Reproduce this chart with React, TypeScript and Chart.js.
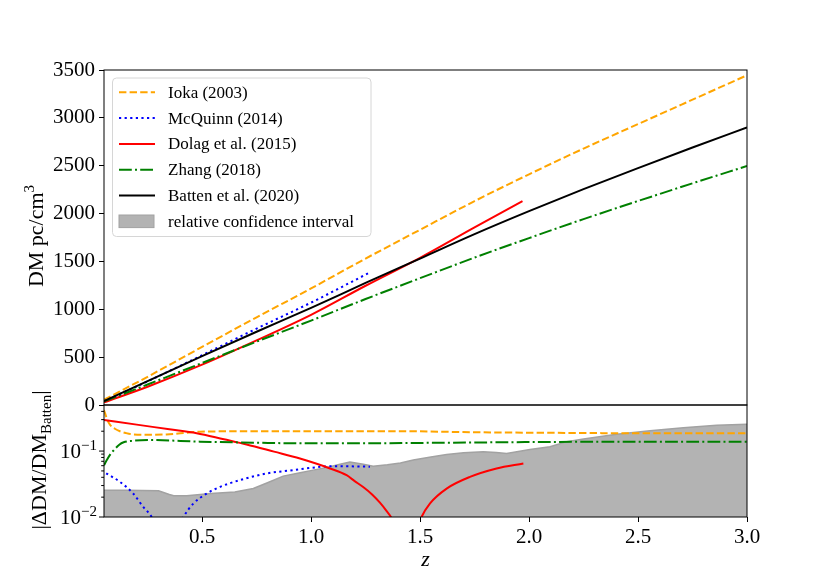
import React, { useEffect, useRef } from "react";
import { Chart, registerables } from "chart.js";

Chart.register(...registerables);

const SERIF = '"Liberation Serif", "DejaVu Serif", serif';

// ---------- top panel: DM [pc/cm^3] against redshift z ----------
const zGrid = [0.05, 0.25, 0.5, 0.75, 1.0, 1.25, 1.5, 1.75, 2.0, 2.25, 2.5, 2.75, 3.0];
const dmIoka = [55, 295, 607, 916, 1218, 1530, 1831, 2130, 2410, 2679, 2935, 3190, 3445];
const dmZhang = [38, 214, 439, 662, 882, 1107, 1325, 1540, 1744, 1942, 2131, 2316, 2497];
const dmBatten = [40, 250, 510, 765, 1015, 1275, 1530, 1785, 2025, 2255, 2475, 2690, 2900];
const zDolag = [0.05, 0.25, 0.5, 0.75, 1.0, 1.25, 1.5, 1.75, 1.97];
const dmDolag = [28, 191, 421, 675, 942, 1246, 1538, 1856, 2130];
const zMcQuinn = [0.05, 0.25, 0.5, 0.75, 1.0, 1.27];
const dmMcQuinn = [38, 247, 520, 798, 1070, 1385];

// ---------- bottom panel: |ΔDM / DM_Batten| ----------
const zRelIoka = [0.05, 0.065, 0.078, 0.1, 0.123, 0.15, 0.184, 0.25, 0.337, 0.4, 0.49, 0.75, 0.949, 1.25, 1.408, 1.75, 2.0, 2.25, 2.5, 2.75, 3.0];
const relIoka = [0.42, 0.3, 0.249, 0.218, 0.2, 0.188, 0.179, 0.177, 0.179, 0.186, 0.197, 0.2, 0.2, 0.2, 0.2, 0.193, 0.19, 0.188, 0.186, 0.186, 0.187];
const zRelZhang = [0.05, 0.065, 0.08, 0.096, 0.12, 0.14, 0.18, 0.26, 0.49, 0.75, 0.949, 1.25, 1.5, 1.75, 2.0, 2.5, 3.0];
const relZhang = [0.061, 0.075, 0.09, 0.104, 0.125, 0.136, 0.143, 0.147, 0.139, 0.134, 0.131, 0.131, 0.133, 0.135, 0.137, 0.139, 0.139];
const zRelMcQuinn = [0.06, 0.123, 0.184, 0.23, 0.269, 0.3, 0.38, 0.414, 0.46, 0.521, 0.583, 0.689, 0.796, 0.918, 1.1, 1.27];
const relMcQuinn = [0.046, 0.0341, 0.0227, 0.0142, 0.01, 0.006, 0.006, 0.01, 0.016, 0.0227, 0.0287, 0.0375, 0.0457, 0.0514, 0.059, 0.058];
const zRelDolagLow = [0.05, 0.2, 0.35, 0.475, 0.6, 0.704, 0.83, 0.949, 1.087, 1.163, 1.2, 1.239, 1.28, 1.316, 1.345, 1.37, 1.4];
const relDolagLow = [0.296, 0.252, 0.214, 0.187, 0.151, 0.126, 0.098, 0.077, 0.0545, 0.043, 0.035, 0.0285, 0.022, 0.0165, 0.0125, 0.0095, 0.005];
const zRelDolagHigh = [1.47, 1.507, 1.545, 1.622, 1.729, 1.851, 1.974];
const relDolagHigh = [0.0045, 0.01, 0.016, 0.027, 0.0406, 0.0545, 0.065];
const zConf = [0.05, 0.15, 0.3, 0.35, 0.37, 0.43, 0.54, 0.65, 0.735, 0.8, 0.872, 0.95, 1.01, 1.087, 1.133, 1.178, 1.24, 1.285, 1.35, 1.41, 1.469, 1.55, 1.622, 1.7, 1.79, 1.85, 1.897, 2.004, 2.096, 2.173, 2.25, 2.402, 2.555, 2.708, 2.861, 3.0];
const relConf = [0.0255, 0.0255, 0.025, 0.022, 0.021, 0.021, 0.0227, 0.024, 0.027, 0.033, 0.0417, 0.047, 0.0514, 0.0577, 0.063, 0.068, 0.063, 0.059, 0.062, 0.066, 0.073, 0.081, 0.089, 0.094, 0.0976, 0.095, 0.092, 0.106, 0.116, 0.139, 0.152, 0.18, 0.204, 0.226, 0.246, 0.255];

// ticks
const dmTicks = [0, 500, 1000, 1500, 2000, 2500, 3000, 3500];
const xTicks = [0.5, 1.0, 1.5, 2.0, 2.5, 3.0];
const logTicks = [0.01, 0.02, 0.03, 0.04, 0.05, 0.06, 0.07, 0.08, 0.09, 0.1, 0.2, 0.3, 0.4];
const logMajors = [0.01, 0.1];
const logExponents = ["−2", "−1"];

const legendLabels = [
  "Ioka (2003)",
  "McQuinn (2014)",
  "Dolag et al. (2015)",
  "Zhang (2018)",
  "Batten et al. (2020)",
  "relative confidence interval",
];

// line looks (matplotlib-ish)
const ORANGE = { borderColor: "#ffa500", borderDash: [7.4, 3.2] };
const BLUE = { borderColor: "#0000ff", borderDash: [2.2, 3.4] };
const RED = { borderColor: "#ff0000", borderDash: [] as number[] };
const GREEN = { borderColor: "#008000", borderDash: [12.8, 3.2, 2, 3.2] };
const BLACK = { borderColor: "#000000", borderDash: [] as number[] };
const CONF_FILL = "#b3b3b3";
const CONF_EDGE = "#a2a2a2";

const zip = (xs: number[], ys: number[]) => xs.map((x, i) => ({ x, y: ys[i] }));

const line = (data: { x: number; y: number }[], look: any, order: number) => ({
  data,
  ...look,
  borderWidth: 2,
  pointRadius: 0,
  fill: false,
  cubicInterpolationMode: "monotone" as const,
  order,
});

type Part = [string, number, number];

// draws text rotated by -90°, baseline at bx, centred on cy; parts: [text, size, baseline shift]
function drawVertical(ctx: CanvasRenderingContext2D, bx: number, cy: number, parts: Part[]) {
  let total = 0;
  const widths = parts.map(([t, s]) => {
    ctx.font = `${s}px ${SERIF}`;
    const w = ctx.measureText(t).width;
    total += w;
    return w;
  });
  ctx.save();
  ctx.translate(bx, cy);
  ctx.rotate(-Math.PI / 2);
  ctx.fillStyle = "#000";
  ctx.textBaseline = "alphabetic";
  ctx.textAlign = "left";
  let x = -total / 2;
  parts.forEach(([t, s, dy], i) => {
    ctx.font = `${s}px ${SERIF}`;
    ctx.fillText(t, x, dy);
    x += widths[i];
  });
  ctx.restore();
}

const topDecor = {
  id: "topDecor",
  afterDraw(chart: any) {
    const { ctx, chartArea: a } = chart;
    ctx.save();
    ctx.strokeStyle = "#000";
    ctx.lineWidth = 1;
    ctx.strokeRect(a.left, a.top, a.right - a.left, a.bottom - a.top);

    drawVertical(ctx, 43, 236, [
      ["DM pc/cm", 22, 0],
      ["3", 15, -9],
    ]);

    // legend box
    const lx = 112.5, ly = 78, lw = 258.5, lh = 158.5;
    ctx.beginPath();
    ctx.roundRect(lx, ly, lw, lh, 4);
    ctx.fillStyle = "rgba(255,255,255,0.85)";
    ctx.fill();
    ctx.strokeStyle = "#d6d6d6";
    ctx.lineWidth = 1;
    ctx.stroke();

    const looks = [ORANGE, BLUE, RED, GREEN, BLACK];
    ctx.font = `17px ${SERIF}`;
    ctx.textBaseline = "middle";
    legendLabels.forEach((label, i) => {
      const cy = 92.3 + i * 25.8;
      if (i < looks.length) {
        ctx.beginPath();
        ctx.setLineDash(looks[i].borderDash);
        ctx.strokeStyle = looks[i].borderColor;
        ctx.lineWidth = 2;
        ctx.moveTo(119, cy);
        ctx.lineTo(155, cy);
        ctx.stroke();
        ctx.setLineDash([]);
      } else {
        ctx.fillStyle = CONF_FILL;
        ctx.fillRect(119, cy - 6.3, 35, 12.6);
        ctx.strokeStyle = CONF_EDGE;
        ctx.lineWidth = 1;
        ctx.strokeRect(119, cy - 6.3, 35, 12.6);
      }
      ctx.fillStyle = "#000";
      ctx.fillText(label, 168, cy + 1);
    });
    ctx.restore();
  },
};

const BOTTOM_TOP = 300; // offset of the lower canvas in the page

const bottomDecor = {
  id: "bottomDecor",
  afterDraw(chart: any) {
    const { ctx, chartArea: a } = chart;
    const ys = chart.scales.y;
    ctx.save();
    ctx.strokeStyle = "#000";
    ctx.lineWidth = 1;
    ctx.strokeRect(a.left, a.top, a.right - a.left, a.bottom - a.top);

    // log ticks, major and minor
    logTicks.forEach((v) => {
      const py = ys.getPixelForValue(v);
      const len = logMajors.includes(v) ? 5 : 2.8;
      ctx.beginPath();
      ctx.moveTo(a.left - len, py);
      ctx.lineTo(a.left, py);
      ctx.stroke();
    });
    logMajors.forEach((v, i) => {
      const py = ys.getPixelForValue(v);
      ctx.fillStyle = "#000";
      ctx.textBaseline = "alphabetic";
      ctx.font = `21px ${SERIF}`;
      const w1 = ctx.measureText("10").width;
      ctx.font = `15px ${SERIF}`;
      const w2 = ctx.measureText(logExponents[i]).width;
      const x0 = 97 - w1 - w2;
      ctx.font = `21px ${SERIF}`;
      ctx.fillText("10", x0, py + 7);
      ctx.font = `15px ${SERIF}`;
      ctx.fillText(logExponents[i], x0 + w1, py - 1);
    });

    drawVertical(ctx, 46, 460 - BOTTOM_TOP, [
      ["|ΔDM/DM", 22, 0],
      ["Batten", 15, 4.5],
      ["|", 22, 0],
    ]);

    ctx.font = `italic 22px ${SERIF}`;
    ctx.textAlign = "center";
    ctx.textBaseline = "alphabetic";
    ctx.fillStyle = "#000";
    ctx.fillText("z", (a.left + a.right) / 2, 566 - BOTTOM_TOP);
    ctx.restore();
  },
};

export default function App() {
  const topRef = useRef<HTMLCanvasElement>(null);
  const bottomRef = useRef<HTMLCanvasElement>(null);

  useEffect(() => {
    if (!topRef.current || !bottomRef.current) return;

    const tickFont = { family: SERIF, size: 21 };

    const top = new Chart(topRef.current, {
      type: "line",
      data: {
        datasets: [
          line(zip(zGrid, dmIoka), ORANGE, 5),
          line(zip(zMcQuinn, dmMcQuinn), BLUE, 4),
          line(zip(zDolag, dmDolag), RED, 3),
          line(zip(zGrid, dmZhang), GREEN, 2),
          line(zip(zGrid, dmBatten), BLACK, 1),
        ] as any,
      },
      options: {
        responsive: false,
        animation: false,
        events: [],
        layout: { padding: { top: 70, right: 83, bottom: 25, left: 0 } },
        plugins: { legend: { display: false }, tooltip: { enabled: false } },
        scales: {
          x: { type: "linear", min: 0.05, max: 3.0, display: false },
          y: {
            min: 0,
            max: 3500,
            afterBuildTicks: (s: any) => {
              s.ticks = dmTicks.map((v) => ({ value: v }));
            },
            ticks: {
              callback: (v: any) => String(v),
              font: tickFont,
              color: "#000",
              padding: 4,
              autoSkip: false,
            },
            grid: { drawOnChartArea: false, drawTicks: true, tickLength: 5, color: "#000" },
            border: { display: false },
            afterFit: (s: any) => {
              s.width = 104;
            },
          },
        },
      },
      plugins: [topDecor],
    });

    const bottom = new Chart(bottomRef.current, {
      type: "line",
      data: {
        datasets: [
          {
            data: zip(zConf, relConf),
            borderColor: CONF_EDGE,
            backgroundColor: CONF_FILL,
            borderWidth: 1.5,
            pointRadius: 0,
            fill: "start",
            order: 10,
          },
          line(zip(zRelIoka, relIoka), ORANGE, 5),
          line(zip(zRelMcQuinn, relMcQuinn), BLUE, 4),
          line(zip(zRelDolagLow, relDolagLow), RED, 3),
          line(zip(zRelDolagHigh, relDolagHigh), RED, 3),
          line(zip(zRelZhang, relZhang), GREEN, 2),
        ] as any,
      },
      options: {
        responsive: false,
        animation: false,
        events: [],
        layout: { padding: { top: 105, right: 83, bottom: 0, left: 104 } },
        plugins: { legend: { display: false }, tooltip: { enabled: false } },
        scales: {
          x: {
            type: "linear",
            min: 0.05,
            max: 3.0,
            afterBuildTicks: (s: any) => {
              s.ticks = xTicks.map((v) => ({ value: v }));
            },
            ticks: {
              callback: (v: any) => Number(v).toFixed(1),
              font: tickFont,
              color: "#000",
              padding: 3,
              maxRotation: 0,
              autoSkip: false,
            },
            grid: { drawOnChartArea: false, drawTicks: true, tickLength: 5, color: "#000" },
            border: { display: false },
            afterFit: (s: any) => {
              s.height = 64;
            },
          },
          y: { type: "logarithmic", min: 0.01, max: 0.5, display: false },
        },
      },
      plugins: [bottomDecor],
    });

    return () => {
      top.destroy();
      bottom.destroy();
    };
  }, []);

  return (
    <div style={{ position: "absolute", left: 0, top: 0, width: 830, height: 581, background: "#fff" }}>
      <canvas ref={topRef} width={830} height={430} style={{ position: "absolute", left: 0, top: 0 }} />
      <canvas
        ref={bottomRef}
        width={830}
        height={281}
        style={{ position: "absolute", left: 0, top: BOTTOM_TOP }}
      />
    </div>
  );
}
